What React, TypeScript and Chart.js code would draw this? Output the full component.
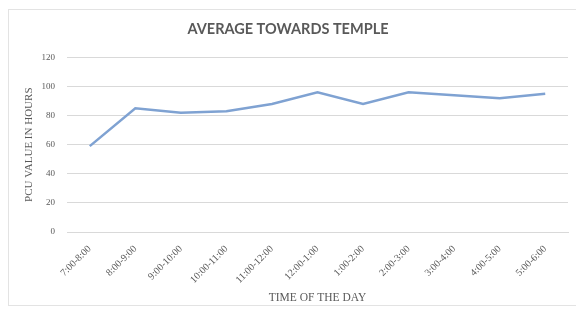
import React, { useEffect, useRef } from "react";
import { Chart, registerables } from "chart.js";

Chart.register(...registerables);

const categories = [
  "7:00-8:00",
  "8:00-9:00",
  "9:00-10:00",
  "10:00-11:00",
  "11:00-12:00",
  "12:00-1:00",
  "1:00-2:00",
  "2:00-3:00",
  "3:00-4:00",
  "4:00-5:00",
  "5:00-6:00",
];
const averageValues = [59, 85, 82, 83, 88, 96, 88, 96, 94, 92, 95];
const yTicks = [0, 20, 40, 60, 80, 100, 120];

const chartTitle = "AVERAGE TOWARDS TEMPLE";
const yTitle = "PCU VALUE IN HOURS";
const xTitle = "TIME OF THE DAY";

const borderPlugin = {
  id: "outerBorder",
  beforeDraw(chart: any) {
    const ctx = chart.ctx;
    ctx.save();
    ctx.fillStyle = "#ffffff";
    ctx.fillRect(0, 0, chart.width, chart.height);
    ctx.strokeStyle = "#e3e3e3";
    ctx.lineWidth = 1;
    ctx.strokeRect(8.5, 9.5, chart.width, 296);
    ctx.restore();
  },
};

export default function App() {
  const ref = useRef<HTMLCanvasElement | null>(null);
  useEffect(() => {
    document.body.style.margin = "0";
    const chart = new Chart(ref.current as HTMLCanvasElement, {
      type: "line",
      data: {
        labels: categories,
        datasets: [
          {
            label: "Average",
            data: averageValues,
            borderColor: "#7fa2d2",
            borderWidth: 2.5,
            pointRadius: 0,
            tension: 0,
            fill: false,
          },
        ],
      },
      plugins: [borderPlugin],
      options: {
        animation: false,
        responsive: false,
        maintainAspectRatio: false,
        layout: { padding: { left: 8, right: 8, top: 0, bottom: 0 } },
        plugins: {
          legend: { display: false },
          tooltip: { enabled: false },
          title: {
            display: true,
            text: chartTitle,
            color: "#595959",
            font: { family: "Lato", size: 14.5, weight: "bold" },
            padding: { top: 21, bottom: 19 },
          },
        },
        scales: {
          x: {
            offset: true,
            grid: { display: false, drawTicks: false },
            border: { display: true, color: "#d9d9d9" },
            ticks: {
              color: "#595959",
              font: { family: "Liberation Serif", size: 10 },
              maxRotation: 45,
              minRotation: 45,
              autoSkip: false,
              padding: 11,
            },
            title: {
              display: true,
              text: xTitle,
              color: "#595959",
              font: { family: "Liberation Serif", size: 11.5 },
              padding: { top: 4, bottom: 6 },
            },
            afterFit(scale: any) {
              scale.height = 79;
            },
          },
          y: {
            min: 0,
            max: 120,
            afterBuildTicks(scale: any) {
              scale.ticks = yTicks.map((v) => ({ value: v }));
            },
            grid: { color: "#d9d9d9", drawTicks: false },
            border: { display: false },
            ticks: {
              color: "#595959",
              font: { family: "Liberation Serif", size: 9 },
              padding: 12,
            },
            title: {
              display: true,
              text: yTitle,
              color: "#595959",
              font: { family: "Liberation Serif", size: 11 },
              padding: { top: 15, bottom: 0 },
            },
            afterFit(scale: any) {
              scale.width = 59;
            },
          },
        },
      },
    } as any);
    return () => chart.destroy();
  }, []);
  return (
    <div style={{ width: 576, height: 311 }}>
      <canvas ref={ref} width={576} height={311} style={{ display: "block" }} />
    </div>
  );
}
